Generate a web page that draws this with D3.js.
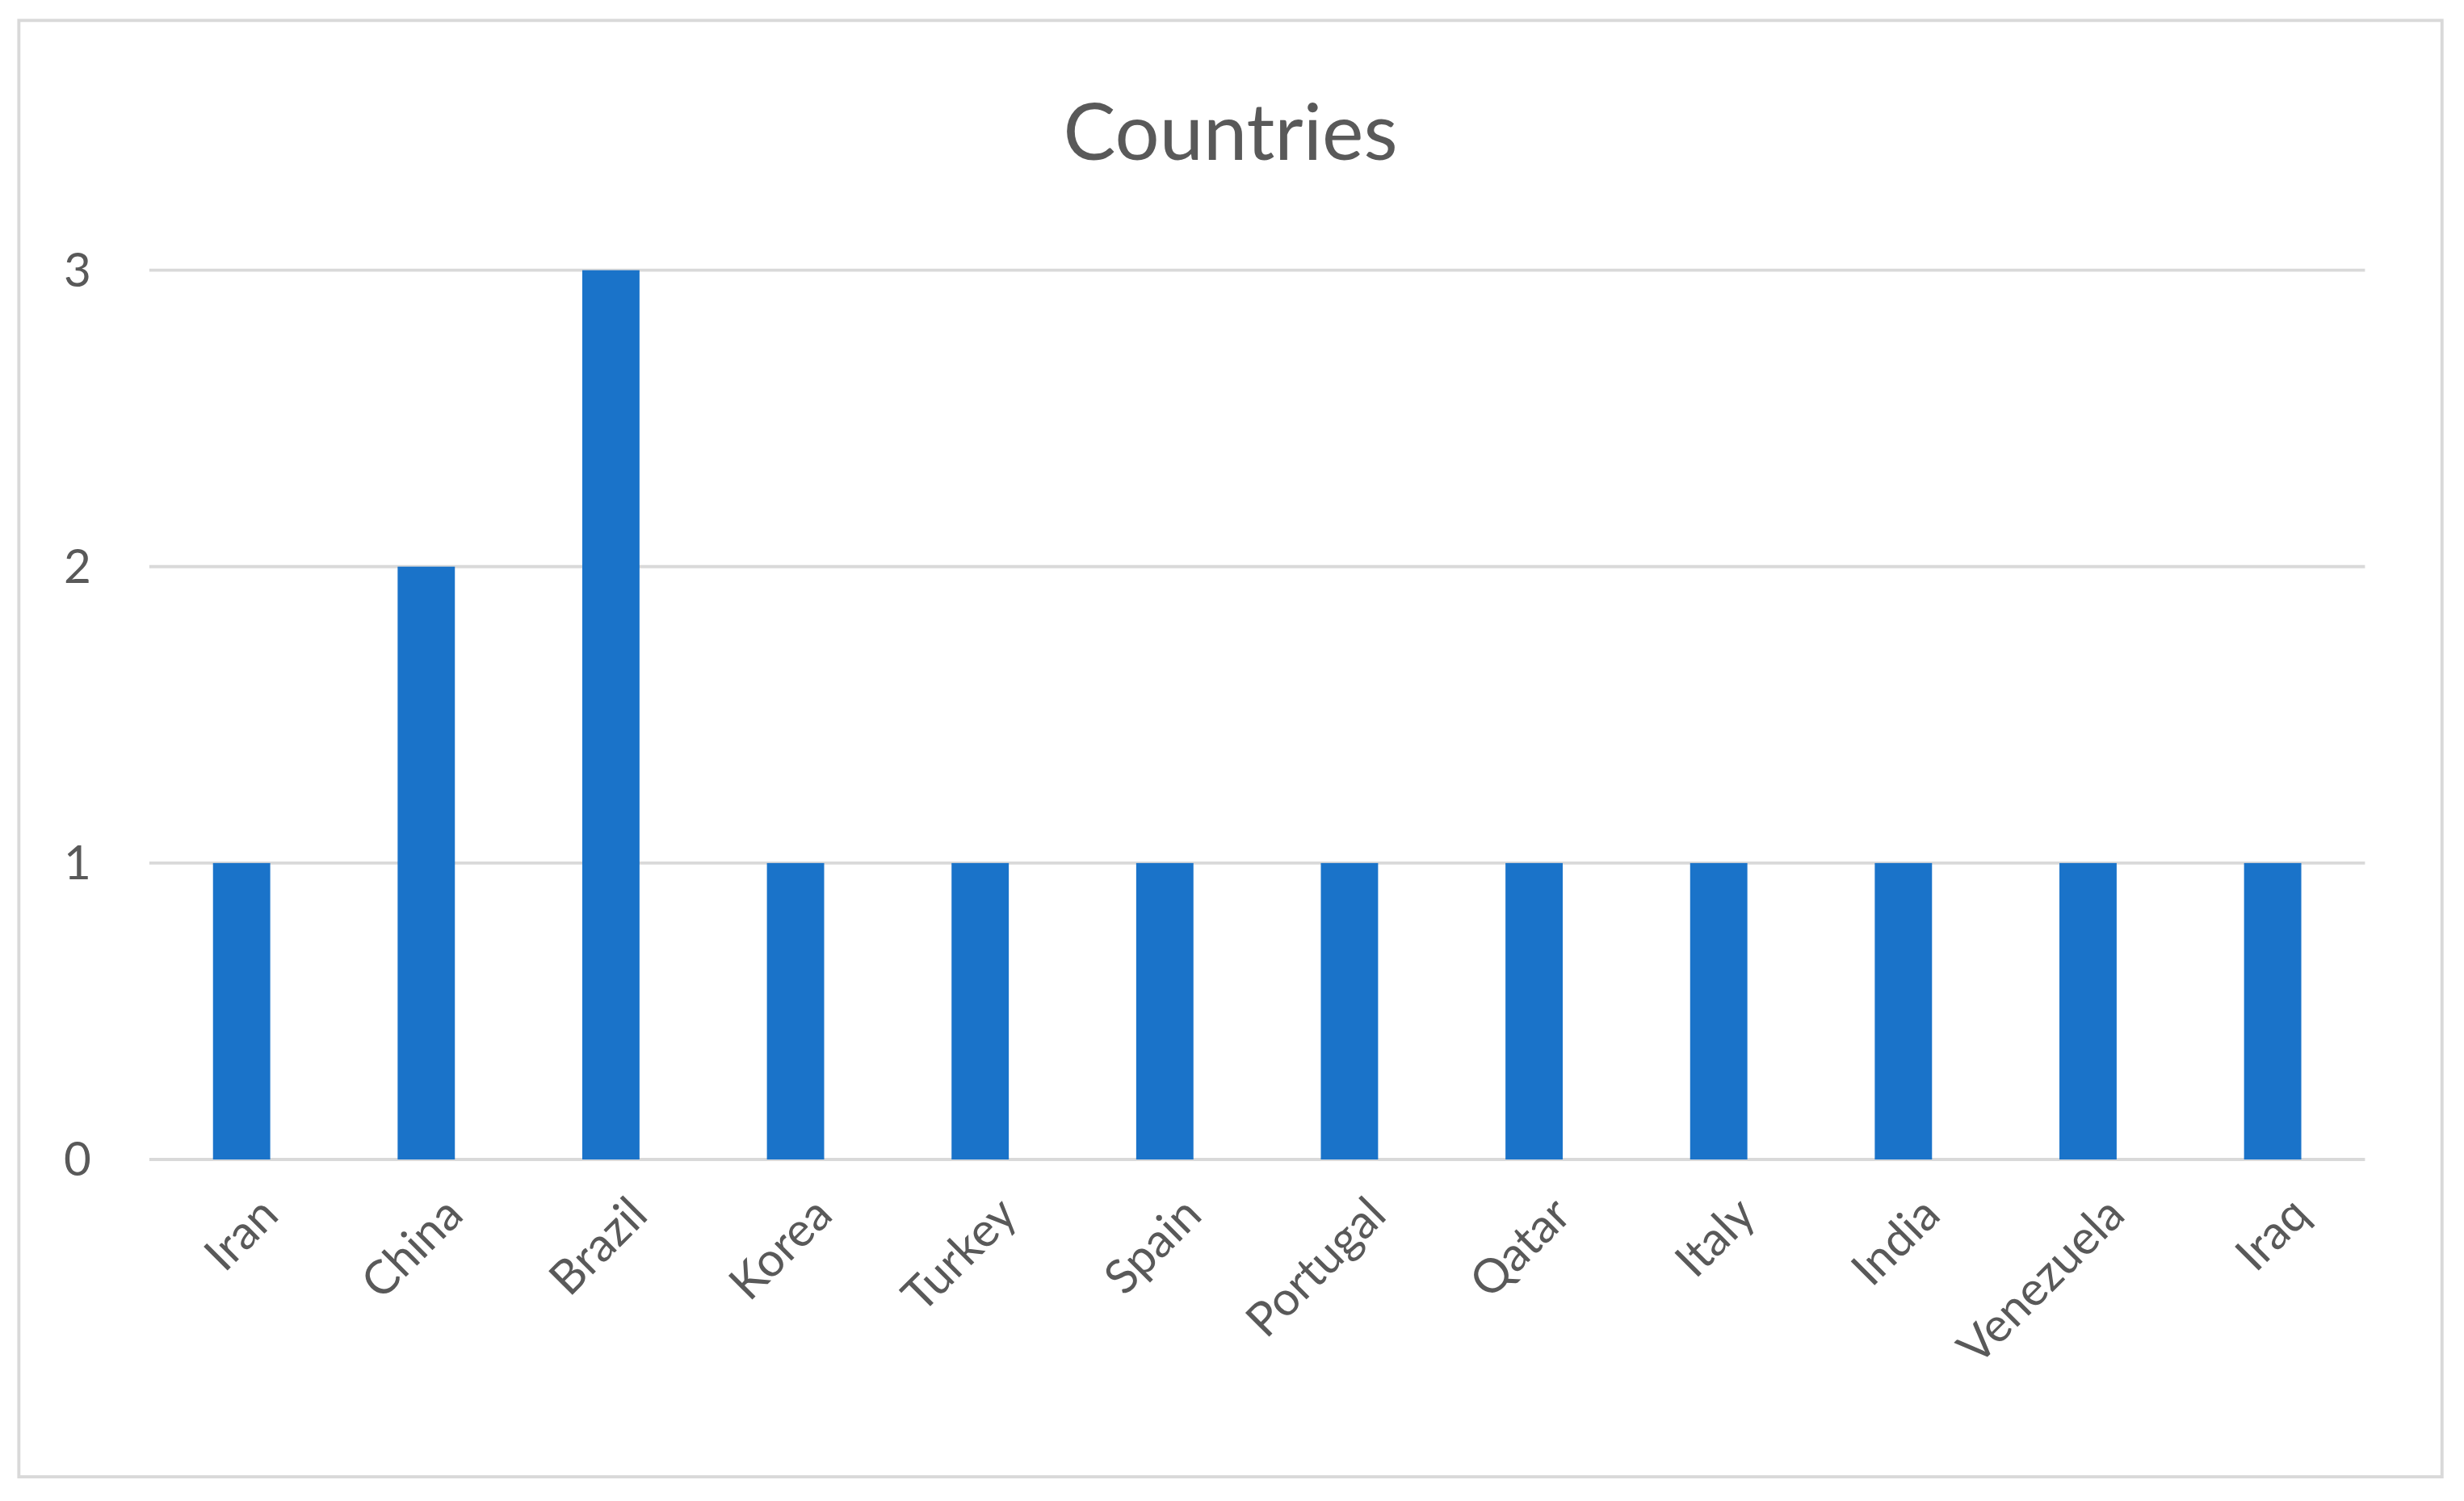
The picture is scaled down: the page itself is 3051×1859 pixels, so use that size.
<!DOCTYPE html>
<html>
<head>
<meta charset="utf-8">
<script src="https://cdn.jsdelivr.net/npm/d3@7"></script>
<style>
  body { margin: 0; background: white; }
  text { font-family: Lato, "Open Sans", sans-serif; fill: #595959; }
</style>
</head>
<body>
<div id="chart"></div>
<script>
var countries = ['Iran', 'China', 'Brazil', 'Korea', 'Turkey', 'Spain', 'Portugal', 'Qatar', 'Italy', 'India', 'Venezuela', 'Iraq']
var counts = [1, 2, 3, 1, 1, 1, 1, 1, 1, 1, 1, 1]
var yTicks = [0, 1, 2, 3]

// drawn in the reference's 1568-wide coordinates, scaled to the window
var W = 1568, H = 955.4
var svg = d3.select('#chart').append('svg')
    .attr('width', 3051).attr('height', 1859)
    .attr('viewBox', '0 0 ' + W + ' ' + H)

svg.append('rect').attr('width', W).attr('height', H).attr('fill', 'white')
svg.append('rect')
    .attr('x', 12).attr('y', 13).attr('width', 1542).attr('height', 927)
    .attr('fill', 'none').attr('stroke', '#d9d9d9').attr('stroke-width', 2)

svg.append('text')
    .attr('x', 783).attr('y', 102)
    .attr('text-anchor', 'middle')
    .attr('font-size', 50)
    .text('Countries')

var x = d3.scaleBand().domain(countries).range([95, 1505]).paddingInner(0.69).paddingOuter(0.345)
var y = d3.scaleLinear().domain([0, 3]).range([738, 172])

svg.append('g').selectAll('line').data(yTicks).join('line')
    .attr('x1', 95).attr('x2', 1505)
    .attr('y1', function (d) { return y(d) }).attr('y2', function (d) { return y(d) })
    .attr('stroke', '#d9d9d9').attr('stroke-width', 2)

svg.append('g').selectAll('text').data(yTicks).join('text')
    .attr('x', 58).attr('y', function (d) { return y(d) })
    .attr('dy', '0.35em').attr('text-anchor', 'end')
    .attr('font-size', 30)
    .text(function (d) { return d })

svg.append('g').selectAll('rect').data(countries).join('rect')
    .attr('x', function (d) { return x(d) })
    .attr('width', x.bandwidth())
    .attr('y', function (d, i) { return y(counts[i]) })
    .attr('height', function (d, i) { return y(0) - y(counts[i]) })
    .attr('fill', '#1a73c9')

svg.append('g').selectAll('text').data(countries).join('text')
    .attr('transform', function (d) { return 'translate(' + (x(d) + x.bandwidth() / 2 + 10) + ',760) rotate(-45)' })
    .attr('text-anchor', 'end')
    .attr('dy', '0.7em')
    .attr('font-size', 30)
    .text(function (d) { return d })
</script>
</body>
</html>
